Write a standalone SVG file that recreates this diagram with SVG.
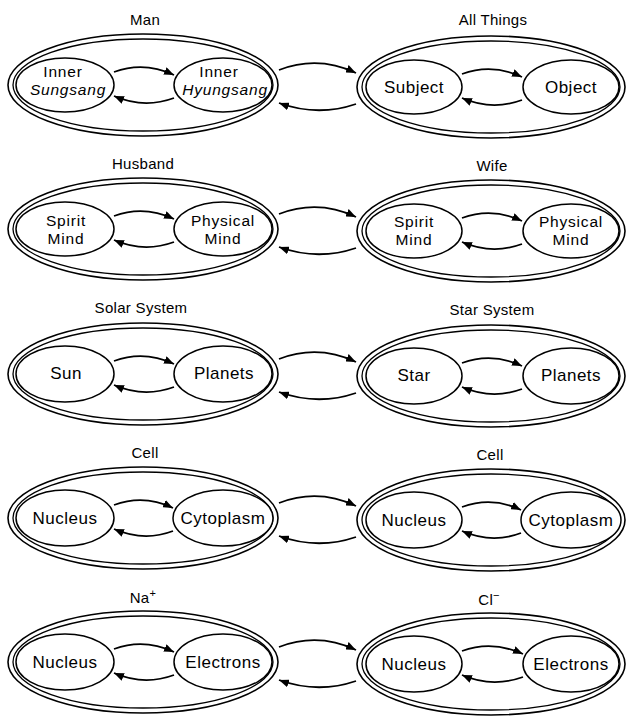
<svg xmlns="http://www.w3.org/2000/svg" width="631" height="725" viewBox="0 0 631 725">
<style>
.o{fill:none;stroke:#000;stroke-width:1.6}
.o2{fill:none;stroke:#000;stroke-width:1.3}
.n{fill:#fff;stroke:#000;stroke-width:1.5}
.c{fill:none;stroke:#000;stroke-width:1.8;marker-end:url(#ah)}
text{font-family:"Liberation Sans",Arial,sans-serif;fill:#000;text-anchor:middle}
.t{font-size:17px;letter-spacing:0.5px}
.t2{font-size:15.5px;letter-spacing:0.8px}
.l{font-size:15px;letter-spacing:0.3px}
.i{font-style:italic}
</style>
<defs>
<marker id="ah" viewBox="0 0 10 8" refX="10" refY="4" markerWidth="10" markerHeight="8" markerUnits="userSpaceOnUse" orient="auto">
<path d="M0,0 L10,4 L0,8 Z" fill="#000"/>
</marker>
</defs>

<!-- Row 1 -->
<g id="man">
<text class="l" x="145" y="25">Man</text>
<ellipse class="o" cx="143" cy="85" rx="135" ry="51"/>
<ellipse class="o2" cx="143" cy="85" rx="130" ry="46"/>
<g id="inner-sungsang"><ellipse class="n" cx="65" cy="85" rx="49" ry="27"/>
<text class="t2" x="63" y="77">Inner</text><text class="t2 i" x="68" y="95">Sungsang</text></g>
<g id="inner-hyungsang"><ellipse class="n" cx="223" cy="85" rx="49" ry="27"/>
<text class="t2" x="219" y="77">Inner</text><text class="t2 i" x="225" y="95">Hyungsang</text></g>
</g>
<g id="all-things">
<text class="l" x="493" y="25">All Things</text>
<ellipse class="o" cx="491" cy="87" rx="134" ry="51"/>
<ellipse class="o2" cx="491" cy="87" rx="129" ry="46"/>
<g id="subject"><ellipse class="n" cx="414" cy="87" rx="48" ry="27"/><text class="t" x="414" y="93">Subject</text></g>
<g id="object"><ellipse class="n" cx="571" cy="87" rx="48" ry="27"/><text class="t" x="571" y="93">Object</text></g>
</g>

<!-- Row 2 -->
<g id="husband">
<text class="l" x="143" y="169">Husband</text>
<ellipse class="o" cx="143" cy="229" rx="135" ry="51"/>
<ellipse class="o2" cx="143" cy="229" rx="130" ry="46"/>
<g id="spirit-mind-h"><ellipse class="n" cx="65" cy="229" rx="49" ry="27"/>
<text class="t2" x="66" y="226">Spirit</text><text class="t2" x="66" y="244">Mind</text></g>
<g id="physical-mind-h"><ellipse class="n" cx="223" cy="229" rx="49" ry="27"/>
<text class="t2" x="223" y="226">Physical</text><text class="t2" x="223" y="244">Mind</text></g>
</g>
<g id="wife">
<text class="l" x="492" y="171">Wife</text>
<ellipse class="o" cx="491" cy="231" rx="134" ry="51"/>
<ellipse class="o2" cx="491" cy="231" rx="129" ry="46"/>
<g id="spirit-mind-w"><ellipse class="n" cx="414" cy="231" rx="48" ry="27"/>
<text class="t2" x="414" y="227">Spirit</text><text class="t2" x="414" y="245">Mind</text></g>
<g id="physical-mind-w"><ellipse class="n" cx="571" cy="231" rx="48" ry="27"/>
<text class="t2" x="571" y="227">Physical</text><text class="t2" x="571" y="245">Mind</text></g>
</g>

<!-- Row 3 -->
<g id="solar-system">
<text class="l" x="141" y="313">Solar System</text>
<ellipse class="o" cx="143" cy="374" rx="135" ry="51"/>
<ellipse class="o2" cx="143" cy="374" rx="130" ry="46"/>
<g id="sun"><ellipse class="n" cx="65" cy="374" rx="49" ry="28"/><text class="t" x="66" y="379">Sun</text></g>
<g id="planets-1"><ellipse class="n" cx="223" cy="374" rx="49" ry="28"/><text class="t" x="224" y="379">Planets</text></g>
</g>
<g id="star-system">
<text class="l" x="492" y="315">Star System</text>
<ellipse class="o" cx="491" cy="376" rx="134" ry="51"/>
<ellipse class="o2" cx="491" cy="376" rx="129" ry="46"/>
<g id="star"><ellipse class="n" cx="414" cy="376" rx="48" ry="28"/><text class="t" x="414" y="381">Star</text></g>
<g id="planets-2"><ellipse class="n" cx="571" cy="376" rx="48" ry="28"/><text class="t" x="571" y="381">Planets</text></g>
</g>

<!-- Row 4 -->
<g id="cell-1">
<text class="l" x="145" y="458">Cell</text>
<ellipse class="o" cx="143" cy="518" rx="135" ry="51"/>
<ellipse class="o2" cx="143" cy="518" rx="130" ry="46"/>
<g id="nucleus-1"><ellipse class="n" cx="65" cy="518" rx="49" ry="28"/><text class="t" x="65" y="524">Nucleus</text></g>
<g id="cytoplasm-1"><ellipse class="n" cx="223" cy="518" rx="50" ry="28"/><text class="t" x="223" y="524">Cytoplasm</text></g>
</g>
<g id="cell-2">
<text class="l" x="490" y="460">Cell</text>
<ellipse class="o" cx="491" cy="520" rx="134" ry="51"/>
<ellipse class="o2" cx="491" cy="520" rx="129" ry="46"/>
<g id="nucleus-2"><ellipse class="n" cx="414" cy="520" rx="48" ry="28"/><text class="t" x="414" y="526">Nucleus</text></g>
<g id="cytoplasm-2"><ellipse class="n" cx="571" cy="520" rx="50" ry="28"/><text class="t" x="571" y="526">Cytoplasm</text></g>
</g>

<!-- Row 5 -->
<g id="na-plus">
<text class="l" x="143" y="603">Na<tspan font-size="11" baseline-shift="super">+</tspan></text>
<ellipse class="o" cx="143" cy="662" rx="135" ry="51"/>
<ellipse class="o2" cx="143" cy="662" rx="130" ry="46"/>
<g id="nucleus-3"><ellipse class="n" cx="65" cy="662" rx="49" ry="28"/><text class="t" x="65" y="668">Nucleus</text></g>
<g id="electrons-1"><ellipse class="n" cx="223" cy="662" rx="49" ry="28"/><text class="t" x="223" y="668">Electrons</text></g>
</g>
<g id="cl-minus">
<text class="l" x="489" y="605">Cl<tspan font-size="11" baseline-shift="super">−</tspan></text>
<ellipse class="o" cx="491" cy="664" rx="134" ry="51"/>
<ellipse class="o2" cx="491" cy="664" rx="129" ry="46"/>
<g id="nucleus-4"><ellipse class="n" cx="414" cy="664" rx="48" ry="28"/><text class="t" x="414" y="670">Nucleus</text></g>
<g id="electrons-2"><ellipse class="n" cx="571" cy="664" rx="48" ry="28"/><text class="t" x="571" y="670">Electrons</text></g>
</g>

<g id="connectors">
<!-- row 1 -->
<path class="c" d="M114,72 Q144,61 174,75"/>
<path class="c" d="M174,98 Q144,109 114,96"/>
<path class="c" d="M462,74 Q492,63 522,77"/>
<path class="c" d="M522,100 Q492,111 462,98"/>
<path class="c" d="M279,70 Q318,55 356,73"/>
<path class="c" d="M356,104 Q318,117 279,103"/>
<!-- row 2 -->
<path class="c" d="M114,216 Q144,205 174,219"/>
<path class="c" d="M174,242 Q144,253 114,240"/>
<path class="c" d="M462,218 Q492,207 522,221"/>
<path class="c" d="M522,244 Q492,255 462,242"/>
<path class="c" d="M279,214 Q318,199 356,217"/>
<path class="c" d="M356,248 Q318,261 279,247"/>
<!-- row 3 -->
<path class="c" d="M114,361 Q144,350 174,364"/>
<path class="c" d="M174,387 Q144,398 114,385"/>
<path class="c" d="M462,363 Q492,352 522,366"/>
<path class="c" d="M522,389 Q492,400 462,387"/>
<path class="c" d="M279,359 Q318,344 356,362"/>
<path class="c" d="M356,393 Q318,406 279,392"/>
<!-- row 4 -->
<path class="c" d="M114,505 Q144,494 173,508"/>
<path class="c" d="M173,531 Q144,542 114,529"/>
<path class="c" d="M462,507 Q492,496 521,510"/>
<path class="c" d="M521,533 Q492,544 462,531"/>
<path class="c" d="M279,503 Q318,488 356,506"/>
<path class="c" d="M356,537 Q318,550 279,536"/>
<!-- row 5 -->
<path class="c" d="M114,649 Q144,638 174,652"/>
<path class="c" d="M174,675 Q144,686 114,673"/>
<path class="c" d="M462,651 Q492,640 523,654"/>
<path class="c" d="M523,677 Q492,688 462,675"/>
<path class="c" d="M279,647 Q318,632 356,650"/>
<path class="c" d="M356,681 Q318,694 279,680"/>
</g>
</svg>
